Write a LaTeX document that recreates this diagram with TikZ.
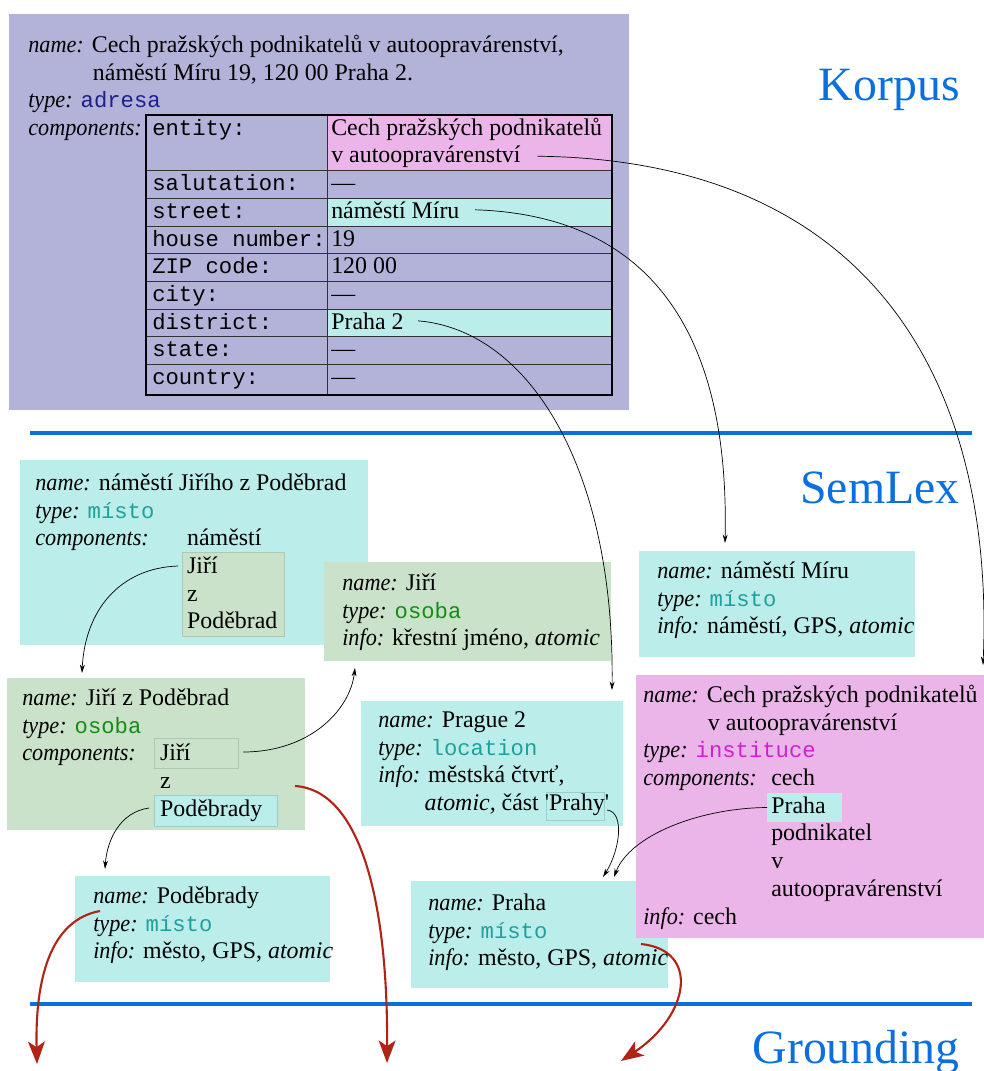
\documentclass[tikz,border=0pt]{standalone}
\usepackage{fontspec}
\setmainfont{Liberation Serif}
\setmonofont{Liberation Mono}
\usepackage{tikz}
\usetikzlibrary{positioning,fit,arrows.meta}
\definecolor{korpusfill}{HTML}{B3B3DA}
\definecolor{cyanfill}{HTML}{BBEDEA}
\definecolor{greenfill}{HTML}{CAE1CA}
\definecolor{pinkfill}{HTML}{EBB5E9}
\definecolor{greenline}{HTML}{B0C8B0}
\definecolor{cyanline}{HTML}{9CCFCC}
\definecolor{layerblue}{HTML}{0A70E0}
\definecolor{groundred}{HTML}{B02418}
\definecolor{adresacol}{HTML}{1E1E8C}
\definecolor{mistocol}{HTML}{20A09C}
\definecolor{osobacol}{HTML}{148C14}
\definecolor{institucecol}{HTML}{D21ED2}
\newcommand{\bodyfont}{\fontsize{17}{19.7}\selectfont}
\newcommand{\keyfont}{\ttfamily\fontsize{15.8}{19.7}\selectfont}
\newcommand{\firstline}{\rule{0pt}{15pt}}
\newcommand{\fld}[1]{\textit{\addfontfeatures{FakeStretch=0.93}#1:}}
\newcommand{\kind}[2]{{\ttfamily\fontsize{15.8}{19.7}\selectfont\color{#1}#2}}

\begin{document}
\begin{tikzpicture}[x=0.025cm, y=-0.025cm,
    pane/.style={inner sep=0pt, outer sep=0pt},
    txt/.style={anchor=north west, inner sep=0pt, align=left, font=\bodyfont},
    cell/.style={anchor=base west, inner sep=0pt, font=\bodyfont},
    key/.style={anchor=base west, inner sep=0pt, font=\keyfont},
    link/.style={-{Stealth[length=6pt,width=3.5pt]}, line width=0.5pt},
    ground/.style={-{Stealth[length=16pt,width=12pt,inset=4pt]}, draw=groundred, line width=1.5pt},
    layer/.style={anchor=base east, inner sep=0pt, text=layerblue, font=\fontsize{34}{40}\selectfont},
    divider/.style={draw=layerblue, line width=2.8pt}
  ]
    \useasboundingbox (0,0) rectangle (984,1071);

    % Korpus
    \node[pane, fill=korpusfill, fit={(9,14) (629,410)}] (korpus) {};
    \node[txt] (korpusText) at (28,31) {\firstline\fld{name} Cech pražských podnikatelů v autoopravárenství,\\ \hspace*{46pt}náměstí Míru 19, 120 00 Praha 2.\\ \fld{type} \kind{adresacol}{adresa}\\ \fld{components}};
    \fill[pinkfill] (327,115) rectangle (612,170);
    \fill[cyanfill] (327,198) rectangle (612,226) (327,309) rectangle (612,336);
    \draw[line width=0.6pt, black!80] (146,170) -- (612,170) (146,198) -- (612,198) (146,226) -- (612,226)
      (146,253) -- (612,253) (146,281) -- (612,281) (146,309) -- (612,309) (146,336) -- (612,336)
      (146,364) -- (612,364) (327,115) -- (327,395);
    \draw[line width=0.9pt] (146,115) rectangle (612,395);
    \node[key] (kEntity) at (152,135) {entity:};
    \node[key] (kSalutation) at (152,190) {salutation:};
    \node[key] (kStreet) at (152,218) {street:};
    \node[key] (kHouse) at (152,246) {house number:};
    \node[key] (kZip) at (152,273) {ZIP code:};
    \node[key] (kCity) at (152,301) {city:};
    \node[key] (kDistrict) at (152,329) {district:};
    \node[key] (kState) at (152,356) {state:};
    \node[key] (kCountry) at (152,384) {country:};
    \node[cell] (vEntity) at (331,135) {Cech pražských podnikatelů};
    \node[cell] (vEntityB) at (331,162) {v autoopravárenství};
    \node[cell] (vSalutation) at (331,190) {---};
    \node[cell] (vStreet) at (331,218) {náměstí Míru};
    \node[cell] (vHouse) at (331,246) {19};
    \node[cell] (vZip) at (331,273) {120 00};
    \node[cell] (vCity) at (331,301) {---};
    \node[cell] (vDistrict) at (331,329) {Praha 2};
    \node[cell] (vState) at (331,356) {---};
    \node[cell] (vCountry) at (331,384) {---};

    \node[layer] (korpusLbl) at (960,101) {Korpus};
    \node[layer] (semlexLbl) at (960,503) {SemLex};
    \node[layer] (groundLbl) at (960,1063) {Grounding};
    \draw[divider] (30,433) -- (972,433);
    \draw[divider] (30,1004) -- (972,1004);

    % SemLex
    \node[pane, fill=cyanfill, fit={(20,460) (368,645)}] (namJiriho) {};
    \node[pane, fill=greenfill, draw=greenline, fit={(182,552) (284,636)}] (namJiComp) {};
    \node[txt] (namJiText) at (35,469) {\firstline\fld{name} náměstí Jiřího z Poděbrad\\ \fld{type} \kind{mistocol}{místo}\\ \makebox[108pt][l]{\fld{components}}náměstí\\ \hspace*{108pt}Jiří\\ \hspace*{108pt}z\\ \hspace*{108pt}Poděbrad};

    \node[pane, fill=greenfill, fit={(324,562) (611,661)}] (jiri) {};
    \node[txt] (jiriText) at (342,569) {\firstline\fld{name} Jiří\\ \fld{type} \kind{osobacol}{osoba}\\ \fld{info} křestní jméno, \textit{atomic}};

    \node[pane, fill=greenfill, fit={(7,678) (305,830)}] (jzp) {};
    \node[pane, fill=greenfill, draw=greenline, fit={(154,738) (238,768)}] (jzpJiri) {};
    \node[pane, fill=cyanfill, draw=cyanline, fit={(154,795) (277,826)}] (jzpPod) {};
    \node[txt] (jzpText) at (22,684) {\firstline\fld{name} Jiří z Poděbrad\\ \fld{type} \kind{osobacol}{osoba}\\ \makebox[98pt][l]{\fld{components}}Jiří\\ \hspace*{98pt}z\\ \hspace*{98pt}Poděbrady};

    \node[pane, fill=cyanfill, fit={(75,876) (330,982)}] (podebrady) {};
    \node[txt] (podText) at (93,882) {\firstline\fld{name} Poděbrady\\ \fld{type} \kind{mistocol}{místo}\\ \fld{info} město, GPS, \textit{atomic}};

    \node[pane, fill=cyanfill, fit={(361,701) (623,826)}] (prague) {};
    \node[pane, draw=cyanline, fit={(546,792) (604,820)}] (prahy) {};
    \node[txt] (pragueText) at (378,706) {\firstline\fld{name} Prague 2\\ \fld{type} \kind{mistocol}{location}\\ \fld{info} městská čtvrť,\\ \hspace*{33pt}\textit{atomic,} část \textquotesingle Prahy\textquotesingle};

    \node[pane, fill=cyanfill, fit={(639,551) (915,657)}] (namMiru) {};
    \node[txt] (namMiruText) at (657,557) {\firstline\fld{name} náměstí Míru\\ \fld{type} \kind{mistocol}{místo}\\ \fld{info} náměstí, GPS, \textit{atomic}};

    \node[pane, fill=cyanfill, fit={(411,881) (668,988)}] (praha) {};
    \node[txt] (prahaText) at (428,889) {\firstline\fld{name} Praha\\ \fld{type} \kind{mistocol}{místo}\\ \fld{info} město, GPS, \textit{atomic}};

    \node[pane, fill=pinkfill, fit={(636,675) (995,938)}] (cech) {};
    \node[pane, fill=cyanfill, fit={(767,793) (842,822)}] (cechPraha) {};
    \node[txt] (cechText) at (643,681) {\firstline\fld{name} Cech pražských podnikatelů\\ \hspace*{46pt}v autoopravárenství\\ \fld{type} \kind{institucecol}{instituce}\\ \makebox[91pt][l]{\fld{components}}cech\\ \hspace*{91pt}Praha\\ \hspace*{91pt}podnikatel\\ \hspace*{91pt}v\\ \hspace*{91pt}autoopravárenství\\ \fld{info} cech};

    % links
    \draw[link] ([xshift=12pt]vEntityB.east) .. controls (870,160) and (995,380) .. ([shift={(347,-10)}]cech.north west);
    \draw[link] ([xshift=11pt]vStreet.east) .. controls (640,215) and (730,320) .. ([shift={(86,-8)}]namMiru.north west);
    \draw[link] ([xshift=10pt]vDistrict.east) .. controls (530,330) and (615,470) .. ([shift={(251,-11)}]prague.north west);
    \draw[link] ([shift={(-4,14)}]namJiComp.north west) .. controls (120,568) and (85,610) .. ([shift={(75,-5)}]jzp.north west);
    \draw[link] ([shift={(5,14)}]jzpJiri.north east) .. controls (310,752) and (350,710) .. ([shift={(31,7)}]jiri.south west);
    \draw[link] ([shift={(-5,13)}]jzpPod.north west) .. controls (120,812) and (107,840) .. ([shift={(30,-7)}]podebrady.north west);
    \draw[link] ([shift={(3,18)}]prahy.north east) .. controls (625,812) and (620,850) .. ([shift={(192,-4)}]praha.north west);
    \draw[link] (cechPraha.west) .. controls (700,808) and (630,835) .. ([shift={(203,-4)}]praha.north west);

    % Grounding
    \coordinate (groundA) at (37,1064);
    \coordinate (groundB) at (387,1063);
    \coordinate (groundC) at (621,1061);
    \draw[ground] ([shift={(25,35)}]podebrady.north west) .. controls (50,920) and (35,980) .. (groundA);
    \draw[ground] ([shift={(-10,108)}]jzp.north east) .. controls (360,790) and (388,900) .. (groundB);
    \draw[ground] ([shift={(230,63)}]praha.north west) .. controls (700,950) and (690,1015) .. (groundC);
  \end{tikzpicture}
\end{document}
